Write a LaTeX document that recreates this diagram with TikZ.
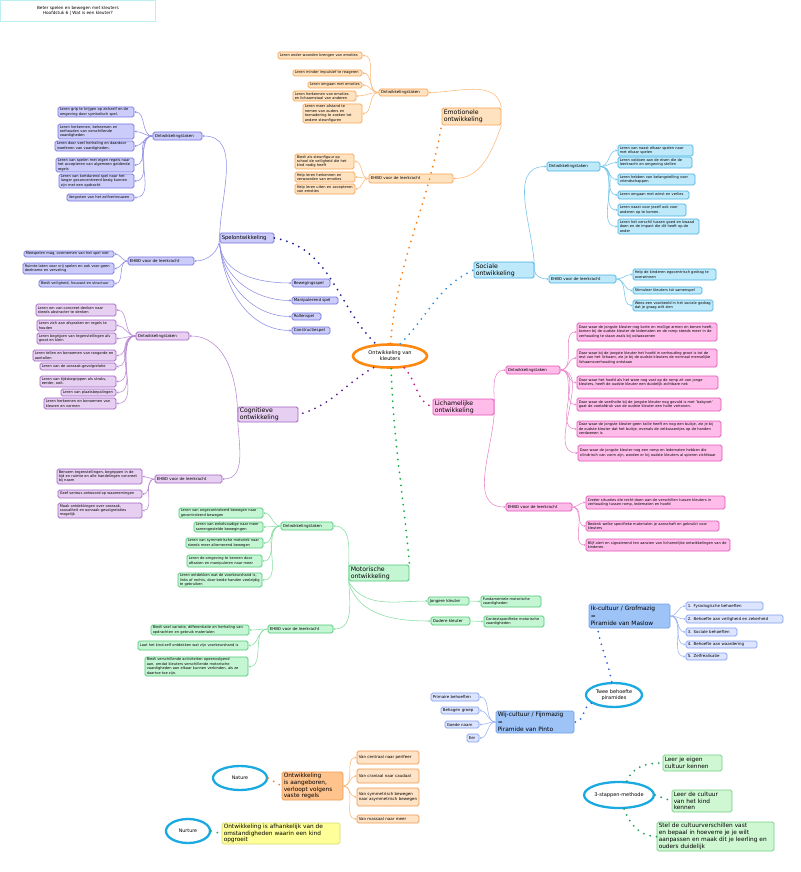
\documentclass[tikz,border=0pt]{standalone}
\usepackage{fontspec}
\setmainfont{DejaVu Sans}
\usetikzlibrary{shapes.geometric,arrows.meta,calc}
\hyphenpenalty=10000
\exhyphenpenalty=10000
\definecolor{emoF}{HTML}{FFE2BF}\definecolor{emoB}{HTML}{F7A350}\definecolor{emoL}{HTML}{F9B877}\definecolor{emoD}{HTML}{FF7F11}
\definecolor{spF}{HTML}{CCCCFA}\definecolor{spB}{HTML}{7272DE}\definecolor{spL}{HTML}{8E8EE6}\definecolor{spD}{HTML}{1B1B8F}
\definecolor{soF}{HTML}{BEE9FA}\definecolor{soB}{HTML}{45B2E3}\definecolor{soL}{HTML}{70C4EA}\definecolor{soD}{HTML}{2A8FE0}
\definecolor{coF}{HTML}{E7CFF1}\definecolor{coB}{HTML}{A261C4}\definecolor{coL}{HTML}{B888D2}\definecolor{coD}{HTML}{5E1B8C}
\definecolor{liF}{HTML}{FFBCEB}\definecolor{liB}{HTML}{E052B4}\definecolor{liL}{HTML}{EA86CC}\definecolor{liD}{HTML}{C71585}
\definecolor{moF}{HTML}{C5F6D4}\definecolor{moB}{HTML}{4DC776}\definecolor{moL}{HTML}{86DCA1}\definecolor{moD}{HTML}{10B040}
\definecolor{pyF}{HTML}{9DC3F7}\definecolor{pyB}{HTML}{6E9FEA}\definecolor{pyLF}{HTML}{DCE4FE}\definecolor{pyLB}{HTML}{819FF0}\definecolor{pyL}{HTML}{9BB3F5}\definecolor{pyD}{HTML}{3366DD}
\definecolor{aaF}{HTML}{FFC48E}\definecolor{aaB}{HTML}{F0994A}\definecolor{aaLF}{HTML}{FFE3C6}
\definecolor{yeF}{HTML}{FFFF99}\definecolor{yeB}{HTML}{D7DC6E}
\definecolor{tsF}{HTML}{CFF7D2}\definecolor{tsB}{HTML}{72CF86}\definecolor{tsD}{HTML}{1E9E5A}
\definecolor{ellC}{HTML}{1BA9E1}\definecolor{rootC}{HTML}{FF8811}\definecolor{titleB}{HTML}{BDEFF0}
\newcommand\fleaf{\fontsize{3.6}{4.4}\selectfont}
\newcommand\fmid{\fontsize{4}{4.8}\selectfont}
\newcommand\fmain{\fontsize{6.2}{7}\selectfont}
\newcommand\fbig{\fontsize{5.3}{7}\selectfont}
\newcommand\fbot{\fontsize{5.8}{6.8}\selectfont}
\newcommand\fpyr{\fontsize{5.9}{7.3}\selectfont}
\newcommand\mmbox[7]{%
  \pgfmathsetmacro\mmw{#5-#3}%
  \pgfmathsetmacro\mmh{#6-#4}%
  \pgfmathsetmacro\mmx{(#3+#5)/2}%
  \pgfmathsetmacro\mmy{-(#4+#6)/2}%
  \pgfmathsetmacro\mmt{#5-#3-3.5}%
  \node[#2, minimum width=\mmw pt, minimum height=\mmh pt, text width=\mmt pt] (#1) at (\mmx,\mmy) {#7};%
}
\begin{document}
\begin{tikzpicture}[x=1pt,y=1pt,
  bx/.style={draw, rounded corners=1.6pt, line width=0.75pt, inner xsep=1.5pt, inner ysep=0.2pt, align=left},
  leaf/.style={bx, font=\fleaf},
  mid/.style={bx, font=\fmid},
  main/.style={bx, font=\fmain, line width=0.9pt},
  big/.style={bx, font=\fbig},
  bot/.style={bx, font=\fbot},
  pyr/.style={bx, font=\fpyr},
  emoS/.style={draw=emoB, fill=emoF},
  spS/.style={draw=spB, fill=spF},
  soS/.style={draw=soB, fill=soF},
  coS/.style={draw=coB, fill=coF},
  liS/.style={draw=liB, fill=liF},
  moS/.style={draw=moB, fill=moF},
  pyS/.style={draw=pyB, fill=pyF},
  pyLS/.style={draw=pyLB, fill=pyLF},
  aaS/.style={draw=aaB, fill=aaF},
  aaLS/.style={draw=aaB, fill=aaLF},
  yeS/.style={draw=yeB, fill=yeF},
  tsS/.style={draw=tsB, fill=tsF},
  conn/.style={line width=0.55pt, -{Stealth[length=2.2pt,width=2.4pt]}},
  dotline/.style={line width=2pt, line cap=round, dash pattern=on 0pt off 6.5pt},
  ell/.style={ellipse, draw=ellC, line width=2.3pt, inner sep=0pt, align=center}
]
\useasboundingbox (0,0) rectangle (800,-872);
% title
\node[draw=titleB, line width=0.8pt, minimum width=155pt, minimum height=21pt, anchor=north west, align=center, font=\fontsize{4.2}{5.6}\selectfont] (title) at (0,0) {Beter spelen en bewegen met kleuters\\Hoofdstuk 6 | Wat is een kleuter?};
% root
\node[ellipse, draw=rootC, line width=2.6pt, minimum width=74pt, minimum height=23pt, inner sep=0pt, align=center, font=\fontsize{5}{6.2}\selectfont] (root) at (390,-356) {Ontwikkeling van\\kleuters};

% ===== Emotionele
\mmbox{emo}{main,emoS}{442}{108}{501}{125}{Emotionele\\ontwikkeling}
\mmbox{eot}{mid,emoS}{379}{89}{428}{96}{Ontwikkelingstaken}
\mmbox{e1}{leaf,emoS}{278}{52}{362}{59}{Leren onder woorden brengen van emoties}
\mmbox{e2}{leaf,emoS}{293}{70}{362}{76}{Leren minder impulsief te reageren}
\mmbox{e3}{leaf,emoS}{308}{82}{362}{88}{Leren omgaan met emoties}
\mmbox{e4}{leaf,emoS}{293}{91}{356}{101}{Leren herkennen van emoties en lichaamstaal van anderen}
\mmbox{e5}{leaf,emoS}{303}{104}{362}{123}{Leren meer afstand te nemen van ouders en toenadering te zoeken tot andere steunfiguren}
\mmbox{eehbo}{mid,emoS}{369}{174}{453}{183}{EHBO voor de leerkracht}
\mmbox{ee1}{leaf,emoS}{295}{154}{354}{169}{Biedt als steunfiguur op school de veiligheid die het kind nodig heeft}
\mmbox{ee2}{leaf,emoS}{295}{172}{355}{182}{Help leren herkennen en verwoorden van emoties}
\mmbox{ee3}{leaf,emoS}{295}{184}{355}{194}{Help leren uiten en accepteren van emoties}
\draw[conn,emoL] (emo.north east) to[out=100,in=0] (eot.east);
\draw[conn,emoL] (emo.south east) to[out=-110,in=0] (eehbo.east);
\foreach \i in {1,...,5} \draw[conn,emoL] (eot.west) to[out=180,in=0] (e\i.east);
\foreach \i in {1,2,3} \draw[conn,emoL] (eehbo.west) to[out=180,in=0] (ee\i.east);

% ===== Spelontwikkeling
\mmbox{spel}{big,spS}{220}{233}{274}{243}{Spelontwikkeling}
\mmbox{pot}{mid,spS}{153}{132}{202}{140}{Ontwikkelingstaken}
\mmbox{p1}{leaf,spS}{58}{107}{134}{117}{Leren grip te krijgen op zichzelf en de omgeving door symbolisch spel.}
\mmbox{p2}{leaf,spS}{58}{124}{134}{139}{Leren herkennen, beheersen en onthouden van verschillende vaardigheden}
\mmbox{p3}{leaf,spS}{55}{141}{134}{151}{Leren door veel herhaling en daardoor inoefenen van vaardigheden.}
\mmbox{p4}{leaf,spS}{56}{158}{134}{172}{Leren van spelen met eigen regels naar het accepteren van algemeen geldende regels}
\mmbox{p5}{leaf,spS}{59}{174}{134}{188}{Leren van kortdurend spel naar het langer geconcentreerd bezig kunnen zijn met een opdracht}
\mmbox{p6}{leaf,spS}{67}{194}{134}{201}{Vergroten van het zelfvertrouwen}
\mmbox{pehbo}{mid,spS}{128}{257}{194}{265}{EHBO voor de leerkracht}
\mmbox{pe1}{leaf,spS}{24}{251}{114}{257}{Meespelen mag, overnemen van het spel niet}
\mmbox{pe2}{leaf,spS}{23}{263}{114}{274}{Ruimte laten voor vrij spelen en ook voor geen deelname en verveling}
\mmbox{pe3}{leaf,spS}{39}{280}{114}{287}{Biedt veiligheid, houvast en structuur}
\mmbox{pb1}{mid,spS}{292}{279}{330}{287}{Bewegingsspel}
\mmbox{pb2}{mid,spS}{292}{297}{338}{304}{Manipulerend spel}
\mmbox{pb3}{mid,spS}{292}{313}{321}{320}{Rollenspel}
\mmbox{pb4}{mid,spS}{292}{327}{330}{334}{Constructiespel}
\draw[conn,spL] (spel.west) to[out=90,in=0] (pot.east);
\draw[conn,spL] (spel.west) to[out=-90,in=0] (pehbo.east);
\foreach \i in {1,...,4} \draw[conn,spL] (spel.south west) to[out=-85,in=180] (pb\i.west);
\foreach \i in {1,...,6} \draw[conn,spL] (pot.west) to[out=180,in=0] (p\i.east);
\foreach \i in {1,2,3} \draw[conn,spL] (pehbo.west) to[out=180,in=0] (pe\i.east);

% ===== Sociale
\mmbox{soc}{main,soS}{474}{262}{534}{278}{Sociale\\ontwikkeling}
\mmbox{sot}{mid,soS}{547}{162}{600}{171}{Ontwikkelingstaken}
\mmbox{s1}{leaf,soS}{618}{145}{693}{156}{Leren van naast elkaar spelen naar met elkaar spelen}
\mmbox{s2}{leaf,soS}{618}{157}{692}{168}{Leren voldoen aan de eisen die de leerkracht en omgeving stellen}
\mmbox{s3}{leaf,soS}{618}{174}{695}{185}{Leren hebben van belangstelling voor vriendschappen}
\mmbox{s4}{leaf,soS}{618}{191}{689}{199}{Leren omgaan met winst en verlies}
\mmbox{s5}{leaf,soS}{618}{204}{686}{216}{Leren naast voor jezelf ook voor anderen op te komen.}
\mmbox{s6}{leaf,soS}{618}{219}{699}{234}{Leren het verschil tussen goed en kwaad doen en de impact die dit heeft op de ander}
\mmbox{sehbo}{mid,soS}{549}{275}{616}{283}{EHBO voor de leerkracht}
\mmbox{se1}{leaf,soS}{633}{269}{716}{280}{Help de kinderen egocentrisch gedrag te overwinnen}
\mmbox{se2}{leaf,soS}{633}{287}{702}{294}{Stimuleer kleuters tot samenspel}
\mmbox{se3}{leaf,soS}{633}{300}{713}{311}{Wees een voorbeeld in het sociale gedrag dat je graag wilt zien}
\draw[conn,soL] (soc.east) to[out=90,in=180] (sot.west);
\draw[conn,soL] (soc.east) to[out=-90,in=180] (sehbo.west);
\foreach \i in {1,...,6} \draw[conn,soL] (sot.east) to[out=0,in=180] (s\i.west);
\foreach \i in {1,2,3} \draw[conn,soL] (sehbo.east) to[out=0,in=180] (se\i.west);

% ===== Cognitieve
\mmbox{cog}{main,coS}{238}{407}{298}{422}{Cognitieve\\ontwikkeling}
\mmbox{cot}{mid,coS}{136}{332}{189}{340}{Ontwikkelingstaken}
\mmbox{c1}{leaf,coS}{36}{304}{116}{316}{Leren om van concreet denken naar steeds abstracter te denken}
\mmbox{c2}{leaf,coS}{37}{320}{116}{331}{Leren zich aan afspraken en regels te houden}
\mmbox{c3}{leaf,coS}{37}{333}{116}{344}{Leren begrijpen van tegenstellingen als groot en klein}
\mmbox{c4}{leaf,coS}{33}{350}{116}{361}{Leren tellen en benoemen van rangorde en aantallen}
\mmbox{c5}{leaf,coS}{40}{363}{116}{370}{Leren van de oorzaak-gevolgrelatie}
\mmbox{c6}{leaf,coS}{40}{376}{116}{387}{Leren van tijdsbegrippen als straks, eerder, ooit.}
\mmbox{c7}{leaf,coS}{61}{389}{116}{396}{Leren van plaatsbepalingen}
\mmbox{c8}{leaf,coS}{44}{398}{116}{409}{Leren herkennen en benoemen van kleuren en vormen}
\mmbox{cehbo}{mid,coS}{155}{475}{222}{483}{EHBO voor de leerkracht}
\mmbox{ce1}{leaf,coS}{57}{469}{142}{484}{Benoem tegenstellingen, begrippen in de tijd en ruimte en alle handelingen concreet bij naam}
\mmbox{ce2}{leaf,coS}{58}{490}{142}{498}{Geef serieus antwoord op waarnemingen}
\mmbox{ce3}{leaf,coS}{58}{503}{142}{518}{Maak ontdekkingen over oorzaak, causaliteit en oorzaak-gevolgrelaties mogelijk}
\draw[conn,coL] (cog.west) to[out=90,in=0] (cot.east);
\draw[conn,coL] (cog.west) to[out=-90,in=0] (cehbo.east);
\foreach \i in {1,...,8} \draw[conn,coL] (cot.west) to[out=180,in=0] (c\i.east);
\foreach \i in {1,2,3} \draw[conn,coL] (cehbo.west) to[out=180,in=0] (ce\i.east);

% ===== Lichamelijke
\mmbox{lich}{main,liS}{433}{399}{494}{415}{Lichamelijke\\ontwikkeling}
\mmbox{lot}{mid,liS}{506}{366}{560}{374}{Ontwikkelingstaken}
\mmbox{l1}{leaf,liS}{577}{323}{717}{341}{Daar waar de jongste kleuter nog korte en mollige armen en benen heeft, komen bij de oudste kleuter de ledematen en de romp steeds meer in de verhouding te staan zoals bij volwassenen}
\mmbox{l2}{leaf,liS}{577}{349}{717}{367}{Daar waar bij de jongste kleuter het hoofd in verhouding groot is tot de rest van het lichaam, zie je bij de oudste kleuters de normaal menselijke lichaamsverhouding ontstaan}
\mmbox{l3}{leaf,liS}{577}{376}{718}{389}{Daar waar het hoofd als het ware nog vast op de romp zit van jonge kleuters, heeft de oudste kleuter een duidelijk zichtbare nek}
\mmbox{l4}{leaf,liS}{577}{398}{721}{411}{Daar waar de voetholte bij de jongste kleuter nog gevuld is met 'babyvet' gaat de voetafdruk van de oudste kleuter een holte vertonen.}
\mmbox{l5}{leaf,liS}{577}{421}{721}{437}{Daar waar de jongste kleuter geen taille heeft en nog een buikje, zie je bij de oudste kleuter dat het buikje, evenals de vetkussentjes op de handen verdwenen is}
\mmbox{l6}{leaf,liS}{578}{445}{722}{461}{Daar waar de jongste kleuter nog een romp en ledematen hebben die cilindrisch van vorm zijn, worden er bij oudste kleuters al spieren zichtbaar}
\mmbox{lehbo}{mid,liS}{506}{503}{572}{511}{EHBO voor de leerkracht}
\mmbox{le1}{leaf,liS}{586}{496}{725}{509}{Creëer situaties die recht doen aan de verschillen tussen kleuters in verhouding tussen romp, ledematen en hoofd}
\mmbox{le2}{leaf,liS}{586}{521}{719}{531}{Bedenk welke specifieke materialen je aanschaft en gebruikt voor kleuters}
\mmbox{le3}{leaf,liS}{586}{539}{730}{551}{Blijf alert en signalerend ten aanzien van lichamelijke ontwikkelingen van de kinderen.}
\draw[conn,liL] (lich.east) to[out=90,in=180] (lot.west);
\draw[conn,liL] (lich.east) to[out=-90,in=180] (lehbo.west);
\foreach \i in {1,...,6} \draw[conn,liL] (lot.east) to[out=0,in=180] (l\i.west);
\foreach \i in {1,2,3} \draw[conn,liL] (lehbo.east) to[out=0,in=180] (le\i.west);

% ===== Motorische
\mmbox{mo}{main,moS}{349}{565}{409}{581}{Motorische\\ontwikkeling}
\mmbox{mot}{mid,moS}{281}{522}{333}{530}{Ontwikkelingstaken}
\mmbox{m1}{leaf,moS}{179}{508}{263}{518}{Leren van ongecontroleerd bewegen naar gecontroleerd bewegen}
\mmbox{m2}{leaf,moS}{194}{522}{263}{532}{Leren van enkelvoudige naar meer samengestelde bewegingen}
\mmbox{m3}{leaf,moS}{186}{538}{263}{548}{Leren van symmetrische motoriek naar steeds meer alternerend bewegen}
\mmbox{m4}{leaf,moS}{187}{555}{262}{567}{Leren de omgeving te kennen door aftasten en manipuleren naar meer}
\mmbox{m5}{leaf,moS}{178}{573}{262}{587}{Leren ontdekken wat de voorkeurshand is, links of rechts, door beide handen veelzijdig te gebruiken}
\mmbox{mehbo}{mid,moS}{268}{625}{333}{633}{EHBO voor de leerkracht}
\mmbox{me1}{leaf,moS}{151}{625}{249}{635}{Biedt veel variatie, differentiatie en herhaling van opdrachten en gebruik materialen}
\mmbox{me2}{leaf,moS}{138}{641}{248}{650}{Laat het kind zelf ontdekken wat zijn voorkeurshand is}
\mmbox{me3}{leaf,moS}{145}{657}{248}{676}{Biedt verschillende activiteiten opeenvolgend aan, omdat kleuters verschillende motorische vaardigheden aan elkaar kunnen verbinden, als ze daartoe toe zijn.}
\mmbox{mj}{mid,moS}{428}{597}{469}{605}{Jongere kleuter}
\mmbox{mj1}{leaf,moS}{481}{596}{541}{607}{Fundamentele motorische vaardigheden}
\mmbox{mk}{mid,moS}{431}{617}{470}{625}{Oudere kleuter}
\mmbox{mk1}{leaf,moS}{484}{616}{544}{627}{Contextspecifieke motorische vaardigheden}
\draw[conn,moL] (mo.west) to[out=90,in=0] (mot.east);
\draw[conn,moL] (mo.west) to[out=-90,in=0] (mehbo.east);
\draw[conn,moL] (mo.south west) to[out=-60,in=180] (mj.west);
\draw[conn,moL] (mo.south west) to[out=-75,in=180] (mk.west);
\draw[conn,moL] (mj.east) -- (mj1.west);
\draw[conn,moL] (mk.east) -- (mk1.west);
\foreach \i in {1,...,5} \draw[conn,moL] (mot.west) to[out=180,in=0] (m\i.east);
\foreach \i in {1,2,3} \draw[conn,moL] (mehbo.west) to[out=180,in=0] (me\i.east);

% ===== main dotted branches
\draw[dotline,spD] (spel.east) to[out=-10,in=135] (root.140);
\draw[dotline,emoD] (root.88) to[out=85,in=-100] (emo.south west);
\draw[dotline,soD] (root.50) to[out=45,in=-155] (soc.west);
\draw[dotline,liD] (root.-40) to[out=-45,in=160] (lich.west);
\draw[dotline,moD] (root.-85) to[out=-88,in=95] (mo.north east);
\draw[dotline,coD] (root.-145) to[out=-150,in=15] (cog.east);

% ===== piramides
\mmbox{mas}{pyr,pyS}{589}{604}{670}{628}{Ik-cultuur / Grofmazig\\=\\Piramide van Maslow}
\mmbox{y1}{mid,pyLS}{686}{602}{763}{610}{1. Fysiologische behoeften}
\mmbox{y2}{mid,pyLS}{686}{615}{783}{623}{2. Behoefte aan veiligheid en zekerheid}
\mmbox{y3}{mid,pyLS}{686}{628}{737}{636}{3. Sociale behoeften}
\mmbox{y4}{mid,pyLS}{686}{641}{757}{648}{4. Behoefte aan waardering}
\mmbox{y5}{mid,pyLS}{686}{653}{727}{660}{5. Zelfrealisatie}
\node[ell, minimum width=56pt, minimum height=24pt, font=\fontsize{5}{6.2}\selectfont] (twee) at (614,-695) {Twee behoefte\\piramides};
\mmbox{pin}{pyr,pyS}{496}{711}{574}{733}{Wij-cultuur / Fijnmazig\\=\\Piramide van Pinto}
\mmbox{q1}{mid,pyLS}{431}{693}{479}{701}{Primaire behoeften}
\mmbox{q2}{mid,pyLS}{441}{707}{479}{714}{Behagen groep}
\mmbox{q3}{mid,pyLS}{445}{721}{479}{728}{Goede naam}
\mmbox{q4}{mid,pyLS}{467}{734}{479}{742}{Eer}
\foreach \i in {1,...,5} \draw[conn,pyL] (mas.east) to[out=0,in=180] (y\i.west);
\foreach \i in {1,...,4} \draw[conn,pyL] (pin.west) to[out=180,in=0] (q\i.east);
\draw[dotline,pyD] (twee.100) to[out=100,in=-80] ($(mas.south west)+(9,0)$);
\draw[dotline,pyD] (twee.200) to[out=200,in=-10] (pin.east);

% ===== nature / nurture
\node[ell, minimum width=54pt, minimum height=24pt, font=\fontsize{4.8}{5.5}\selectfont] (nature) at (240,-778) {Nature};
\mmbox{aang}{bot,aaS}{282}{772}{343}{800}{Ontwikkeling is aangeboren, verloopt volgens vaste regels}
\mmbox{n1}{mid,aaLS}{357}{751}{419}{764}{Van centraal naar perifeer}
\mmbox{n2}{mid,aaLS}{357}{769}{419}{783}{Van craniaal naar caudaal}
\mmbox{n3}{mid,aaLS}{357}{788}{419}{806}{Van symmetrisch bewegen naar asymmetrisch bewegen}
\mmbox{n4}{mid,aaLS}{357}{815}{419}{823}{Van massaal naar meer}
\foreach \i in {1,...,4} \draw[conn,emoL] (aang.east) to[out=0,in=180] (n\i.west);
\draw[dotline,emoD] (nature.east) -- (aang.west);
\node[ell, minimum width=44pt, minimum height=24pt, font=\fontsize{4.8}{5.5}\selectfont] (nurture) at (188,-831) {Nurture};
\mmbox{yel}{bot,yeS}{222}{823}{340}{844}{Ontwikkeling is afhankelijk van de omstandigheden waarin een kind opgroeit}
\draw[dotline,moD] (nurture.east) -- (yel.west);

% ===== 3-stappen
\node[ell, minimum width=60pt, minimum height=26pt, font=\fontsize{5}{6}\selectfont] (ts) at (619,-795) {3-stappen-methode};
\mmbox{t1}{bot,tsS}{663}{755}{722}{771}{Leer je eigen cultuur kennen}
\mmbox{t2}{bot,tsS}{672}{790}{732}{812}{Leer de cultuur van het kind kennen}
\mmbox{t3}{bot,tsS}{657}{822}{774}{851}{Stel de cultuurverschillen vast en bepaal in hoeverre je je wilt aanpassen en maak dit je leerling en ouders duidelijk}
\draw[dotline,tsD] (ts.60) to[out=70,in=180] (t1.west);
\draw[dotline,tsD] (ts.east) -- (t2.west);
\draw[dotline,tsD] (ts.-70) to[out=-70,in=180] (t3.west);
\end{tikzpicture}
\end{document}
